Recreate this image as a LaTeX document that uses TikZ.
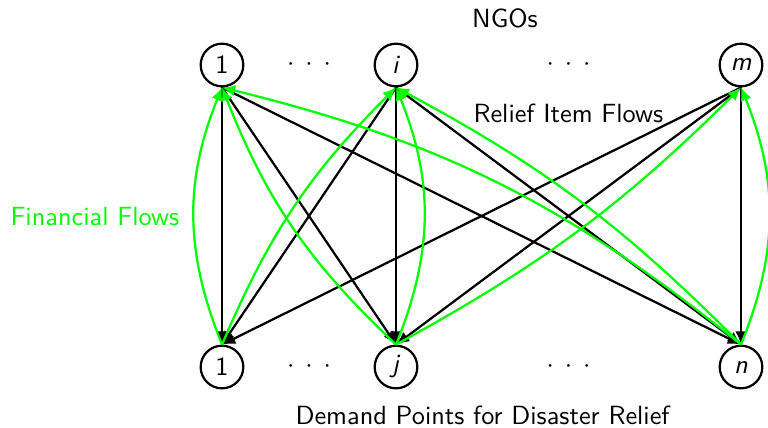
\documentclass[tikz,border=0pt]{standalone}
\usetikzlibrary{arrows.meta}
\begin{document}
\begin{tikzpicture}[x=0.38pt,y=-0.38pt,font=\sffamily,
  vert/.style={draw,circle,line width=0.85pt,minimum size=16.2pt,inner sep=0pt},
  relief/.style={line width=0.85pt,-{Latex[length=5pt,width=4.4pt]}},
  fin/.style={line width=0.85pt,green,-{Latex[length=5pt,width=4.4pt]}},
  lbl/.style={inner sep=0pt,anchor=base west}]
\useasboundingbox (0,0) rectangle (768,427);
% NGO nodes
\node[vert] (n1) at (222,65) {1};
\node[vert] (ni) at (396,65) {\textit{i}};
\node[vert] (nm) at (741,65) {\textit{m}};
\node (td1) at (309,65) {$\cdot\mkern3.5mu\cdot\mkern3.5mu\cdot$};
\node (td2) at (568.5,65) {$\cdot\mkern3.5mu\cdot\mkern3.5mu\cdot$};
% Demand nodes
\node[vert] (d1) at (222,367) {1};
\node[vert] (dj) at (396,367) {\textit{j}};
\node[vert] (dn) at (741,367) {\textit{n}};
\node (bd1) at (309,367) {$\cdot\mkern3.5mu\cdot\mkern3.5mu\cdot$};
\node (bd2) at (568.5,367) {$\cdot\mkern3.5mu\cdot\mkern3.5mu\cdot$};
% labels
\node[inner sep=0pt,anchor=base] (ngo) at (505,27) {NGOs};
\node[lbl] (rif) at (473,122) {Relief Item Flows};
\node[lbl,text=green] (ff) at (10,225) {Financial Flows};
\node[lbl] (dp) at (295,424) {Demand Points for Disaster Relief};
% relief item flows
\foreach \s in {n1,ni,nm}
  \foreach \t in {d1,dj,dn}
    \draw[relief] (\s.south) -- (\t.north);
% financial flows
\draw[fin] (d1.north) to[bend left=22] (n1.south);
\draw[fin] (dj.north) to[bend left=12.5] (n1.south);
\draw[fin] (dn.north) to[bend right=12.5] (n1.south);
\draw[fin] (d1.north) to[bend left=11] (ni.south);
\draw[fin] (dj.north) to[bend right=22] (ni.south);
\draw[fin] (dn.north) to[bend right=8.5] (ni.south);
\draw[fin] (dj.north) to[bend right=8] (nm.south);
\draw[fin] (dn.north) to[bend right=22] (nm.south);
\end{tikzpicture}
\end{document}
